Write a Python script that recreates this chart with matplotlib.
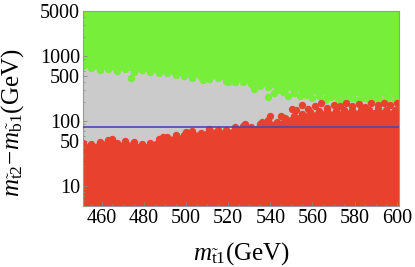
import matplotlib
matplotlib.use("Agg")
import matplotlib.pyplot as plt
from matplotlib.ticker import FixedLocator, NullFormatter

plt.rcParams['font.family'] = ['Liberation Serif', 'DejaVu Serif']
plt.rcParams['mathtext.fontset'] = 'custom'
plt.rcParams['mathtext.rm'] = 'Liberation Serif'
plt.rcParams['mathtext.it'] = 'Liberation Serif:italic'

# Lower edge of the green (solid) region (GeV) vs m_t1
green_x = [451, 455, 459, 463, 467, 471, 475, 479, 483, 487, 491, 495, 499, 503, 507,
           511, 515, 519, 523, 527, 531, 535, 539, 543, 547, 551, 555, 559, 563, 567,
           571, 575, 579, 583, 587, 591, 595, 599, 601]
green_y = [700, 650, 620, 640, 590, 630, 580, 610, 570, 560, 545, 520, 500, 470, 480,
           440, 455, 420, 405, 395, 370, 345, 335, 325, 310, 295, 285, 270, 265, 255,
           250, 255, 245, 250, 240, 245, 250, 255, 255]
# Upper edge of the red (solid) region (GeV) vs m_t1
red_x = [451, 455, 459, 463, 467, 471, 475, 479, 483, 487, 491, 495, 499, 503, 507,
         511, 515, 519, 523, 527, 531, 535, 539, 543, 547, 551, 555, 559, 563, 567,
         571, 575, 579, 583, 587, 591, 595, 599, 601]
red_y = [46, 44, 48, 51, 46, 49, 47, 44, 46, 54, 57, 61, 62, 70, 66,
         77, 74, 72, 80, 84, 80, 92, 105, 96, 112, 122, 130, 138, 142, 145,
         142, 148, 150, 146, 150, 152, 148, 150, 150]
# scattered points in the mixed zone
green_extra_x = [474, 532, 539, 541.5, 548.5, 546, 543, 551, 554, 557, 560, 563, 566,
                 569, 572, 575, 578, 581, 584, 587, 590, 593, 596, 599, 520, 508]
green_extra_y = [465, 316, 237, 274, 245, 285, 300, 270, 240, 255, 230, 245, 215,
                 235, 220, 205, 225, 210, 230, 212, 220, 205, 225, 212, 395, 430]
red_extra_x = [540, 550.5, 528, 500, 552, 555, 558, 561, 564, 567, 570, 573, 576,
               579, 582, 585, 588, 591, 594, 597, 600, 545, 536, 489, 465]
red_extra_y = [118, 154, 90, 68, 150, 175, 155, 170, 188, 160, 180, 170, 190,
               172, 185, 165, 190, 178, 192, 180, 188, 118, 98, 58, 53]

line_y = 80
xlim = (451, 601)
ylim = (4.9, 5000)
xticks = [460, 480, 500, 520, 540, 560, 580, 600]
yticks = [10, 50, 100, 500, 1000, 5000]
ytick_labels = ['10', '50', '100', '500', '1000', '5000']

GREEN = '#77ee3a'
GRAY = '#cbcbcb'
RED = '#e8412e'
BLUE = '#4a4aa8'

fig = plt.figure(figsize=(4.15, 2.67), dpi=100)
ax = fig.add_axes([0.200, 0.228, 0.761, 0.731])
ax.set_facecolor(GRAY)
ax.set_yscale('log')

ax.fill_between(green_x, green_y, [ylim[1] * 2] * len(green_x), color=GREEN, lw=0, zorder=1)
ax.fill_between(red_x, [1] * len(red_x), red_y, color=RED, lw=0, zorder=1)
ax.scatter(green_x, green_y, s=28, color=GREEN, lw=0, zorder=2)
ax.scatter(green_extra_x, green_extra_y, s=28, color=GREEN, lw=0, zorder=2)
ax.scatter(red_x, red_y, s=28, color=RED, lw=0, zorder=2)
ax.scatter(red_extra_x, red_extra_y, s=28, color=RED, lw=0, zorder=2)
ax.axhline(line_y, color=BLUE, lw=1.2, zorder=3)

ax.set_xlim(*xlim)
ax.set_ylim(*ylim)
ax.set_xticks(xticks)
ax.xaxis.set_minor_locator(FixedLocator(list(range(455, 601, 5))))
ax.yaxis.set_major_locator(FixedLocator(yticks))
ax.set_yticklabels(ytick_labels)
ax.yaxis.set_minor_locator(FixedLocator([5, 6, 7, 8, 9, 20, 30, 40, 60, 70, 80, 90,
                                         200, 300, 400, 600, 700, 800, 900, 2000, 3000, 4000]))
ax.yaxis.set_minor_formatter(NullFormatter())
ax.tick_params(which='both', direction='in', color='#888888', labelsize=14.5, pad=2)
ax.tick_params(which='major', length=3, width=0.6)
ax.tick_params(which='minor', length=1.5, width=0.5)
for s in ax.spines.values():
    s.set_color('#999999')
    s.set_linewidth(0.8)

fig.text(193 / 415, 7 / 267, r'$m_{\tilde{\mathrm{t}}1}$(GeV)', fontsize=18,
         ha='left', va='baseline')
fig.text(19 / 415, 70 / 267, r'$m_{\tilde{\mathrm{t}}2}\!-\!m_{\tilde{\mathrm{b}}1}$(GeV)',
         fontsize=18, rotation=90, rotation_mode='anchor', ha='left', va='baseline')

fig.savefig('out.png', dpi=100)
